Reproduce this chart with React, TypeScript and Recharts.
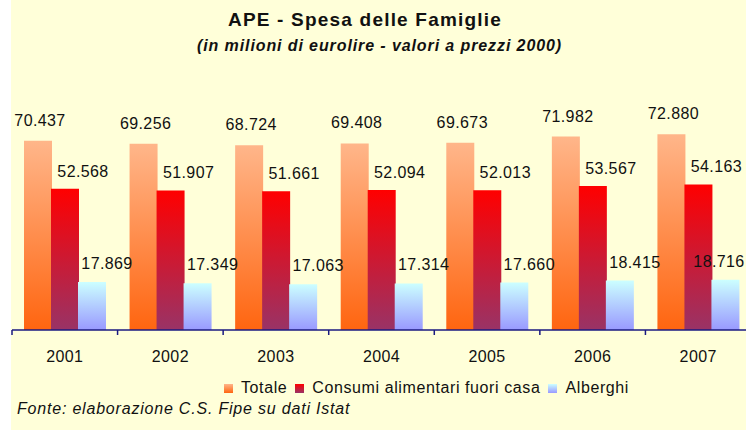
import React from "react";
import { Bar, BarChart, LabelList, XAxis, YAxis } from "recharts";

const YEARS = ["2001", "2002", "2003", "2004", "2005", "2006", "2007"];
const TOTALE = [70.437, 69.256, 68.724, 69.408, 69.673, 71.982, 72.88];
const CONSUMI = [52.568, 51.907, 51.661, 52.094, 52.013, 53.567, 54.163];
const ALBERGHI = [17.869, 17.349, 17.063, 17.314, 17.66, 18.415, 18.716];

const SERIES = [
  { key: "totale", name: "Totale", grad: "gTot", top: "#FFB68A", bottom: "#FF6510", dx: 2, dy: 15 },
  { key: "consumi", name: "Consumi alimentari fuori casa", grad: "gCon", top: "#FF0000", bottom: "#993366", dx: 18, dy: 12 },
  { key: "alberghi", name: "Alberghi", grad: "gAlb", top: "#CCFFFF", bottom: "#9999FF", dx: 15, dy: 13 },
];

const chartData = YEARS.map((year, i) => ({
  year,
  totale: TOTALE[i],
  consumi: CONSUMI[i],
  alberghi: ALBERGHI[i],
}));

const BG = "#FFFFD9";
const AXIS = "#1A1A80";
const FONT = "'Liberation Sans', Arial, sans-serif";

const CHART_W = 760;
const MARGIN = { top: 115, right: 9, left: 12, bottom: 70 };
const BAND = (CHART_W - MARGIN.left - MARGIN.right) / YEARS.length;

const fmt = (v: number) => v.toFixed(3);

function YearTick(props: any) {
  const { x, y, payload, index } = props;
  const axisY = y - 8;
  return (
    <g>
      <line x1={x - BAND / 2} x2={x - BAND / 2} y1={axisY} y2={axisY + 5} stroke={AXIS} strokeWidth={1.5} />
      {index === YEARS.length - 1 && (
        <line x1={x + BAND / 2} x2={x + BAND / 2} y1={axisY} y2={axisY + 5} stroke={AXIS} strokeWidth={1.5} />
      )}
      <text x={x} y={axisY + 32} textAnchor="middle" fontSize={16} letterSpacing={0.4} fill="#111" fontFamily={FONT}>
        {payload.value}
      </text>
    </g>
  );
}

function makeLabel(dx: number, dy: number) {
  return (props: any) => {
    const { x, y, width, value } = props;
    let cx = x + width / 2 + dx;
    cx = Math.min(cx, 745 - 26);
    return (
      <text x={cx} y={y - dy} textAnchor="middle" fontSize={16} letterSpacing={0.4} fill="#111" fontFamily={FONT}>
        {fmt(value)}
      </text>
    );
  };
}

export default function App() {
  return (
    <div
      style={{
        position: "absolute",
        left: 0,
        top: 0,
        width: 746,
        height: 430,
        overflow: "hidden",
        background: "#fff",
        fontFamily: FONT,
      }}
    >
      <div style={{ position: "absolute", left: 11, top: 0, width: 735, height: 430, background: BG }} />
      <div
        style={{
          position: "absolute",
          left: 0,
          width: 730,
          top: 9,
          textAlign: "center",
          fontWeight: "bold",
          fontSize: 19,
          letterSpacing: 1.2,
          color: "#111",
        }}
      >
        APE - Spesa delle Famiglie
      </div>
      <div
        style={{
          position: "absolute",
          left: 0,
          width: 759,
          top: 37,
          textAlign: "center",
          fontWeight: "bold",
          fontStyle: "italic",
          fontSize: 16,
          letterSpacing: 0.9,
          color: "#111",
        }}
      >
        (in milioni di eurolire - valori a prezzi 2000)
      </div>

      <div style={{ position: "absolute", left: 0, top: 0 }}>
        <BarChart width={CHART_W} height={430} data={chartData} margin={MARGIN} barSize={28} barGap={-1}>
          <defs>
            {SERIES.map((s) => (
              <linearGradient key={s.grad} id={s.grad} x1="0" y1="0" x2="0" y2="1">
                <stop offset="0%" stopColor={s.top} />
                <stop offset="100%" stopColor={s.bottom} />
              </linearGradient>
            ))}
          </defs>
          <YAxis hide domain={[0, 80]} />
          <XAxis
            dataKey="year"
            height={30}
            axisLine={{ stroke: AXIS, strokeWidth: 1.5 }}
            tickLine={false}
            tick={<YearTick />}
            interval={0}
          />
          {SERIES.map((s) => (
            <Bar key={s.key} dataKey={s.key} name={s.name} fill={`url(#${s.grad})`} isAnimationActive={false}>
              <LabelList dataKey={s.key} content={makeLabel(s.dx, s.dy)} />
            </Bar>
          ))}
        </BarChart>
      </div>

      <div
        style={{
          position: "absolute",
          left: 224,
          top: 379,
          display: "flex",
          alignItems: "center",
          fontSize: 16,
          letterSpacing: 0.6,
          color: "#111",
          whiteSpace: "nowrap",
        }}
      >
        {SERIES.map((s) => (
          <span key={s.key} style={{ display: "flex", alignItems: "center", marginRight: 8 }}>
            <span
              style={{
                display: "inline-block",
                width: 9,
                height: 9,
                marginRight: 8,
                background: `linear-gradient(${s.top}, ${s.bottom})`,
              }}
            />
            {s.name}
          </span>
        ))}
      </div>
      <div
        style={{
          position: "absolute",
          left: 17,
          top: 400,
          fontSize: 16,
          fontStyle: "italic",
          letterSpacing: 0.8,
          color: "#111",
          whiteSpace: "nowrap",
        }}
      >
        Fonte: elaborazione C.S. Fipe su dati Istat
      </div>
    </div>
  );
}
